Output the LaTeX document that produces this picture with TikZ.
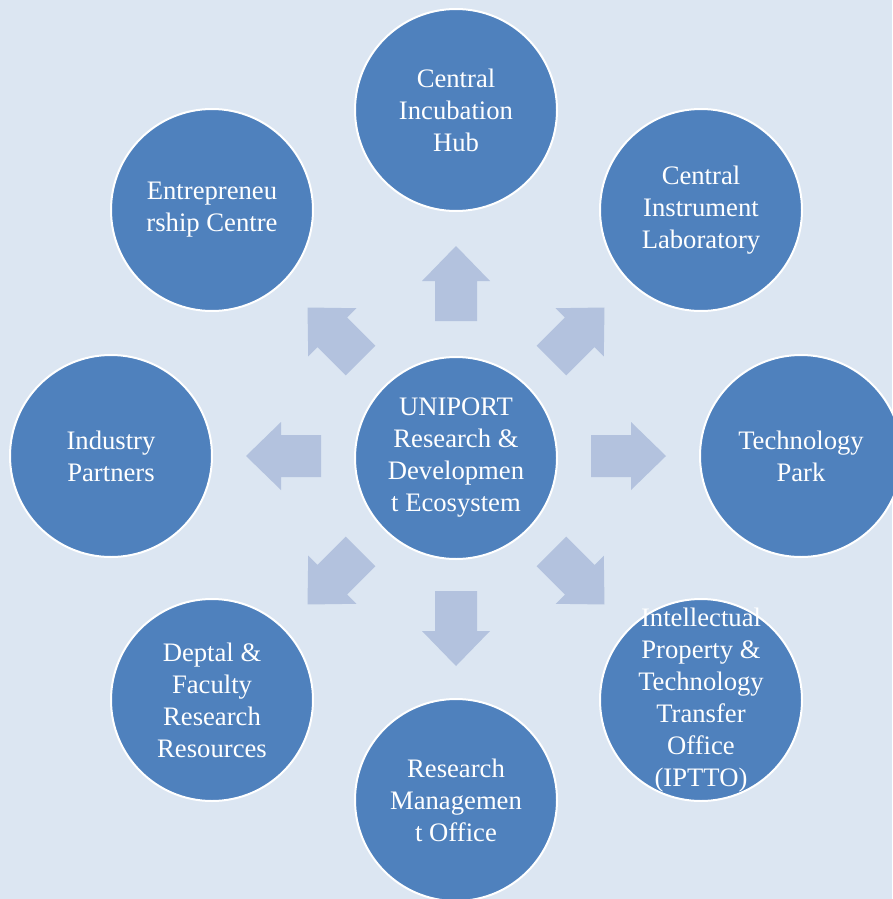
\documentclass[tikz,border=0pt]{standalone}
\usepackage{fontspec}
\setmainfont{Liberation Serif}
\newfontfamily\tnr{Liberation Serif}
\definecolor{bgc}{RGB}{220,230,242}
\definecolor{circc}{RGB}{79,129,189}
\definecolor{arrc}{RGB}{179,194,222}
\tikzset{
  bubble/.style={circle, fill=circc, draw=white, line width=1.5pt, minimum size=151.5pt, inner sep=0pt,
    text=white, align=center, font=\tnr\fontsize{20}{24}\selectfont},
  bubbletext/.style={text=white, align=center, inner sep=0pt, font=\tnr\fontsize{20}{24}\selectfont},
  blockarrow/.style={fill=arrc, draw=none}
}
\begin{document}
\begin{tikzpicture}[x=0.75pt, y=-0.75pt]
\fill[bgc] (0,0) rectangle (892,899);
\useasboundingbox (0,0) rectangle (892,899);
% block arrows
\foreach \a in {0,45,...,315}{
  \begin{scope}[shift={(456,456)}, rotate=\a]
    \fill[blockarrow] (135,-21) -- (175,-21) -- (175,-34) -- (210,0) -- (175,34) -- (175,21) -- (135,21) -- cycle;
  \end{scope}
}
\node[bubble] (center) at (456,458) {UNIPORT\\Research \&\\Developmen\\t Ecosystem};
\node[bubble] (hub) at (456,110) {Central\\Incubation\\Hub};
\node[bubble] (lab) at (701,210) {Central\\Instrument\\Laboratory};
\node[bubble] (park) at (801,456) {Technology\\Park};
\node[bubble] (iptto) at (701,700) {};
\node[bubbletext] (ipttotext) at (iptto.center) {Intellectual\\Property \&\\Technology\\Transfer\\Office\\(IPTTO)};
\node[bubble] (rmo) at (456,800) {Research\\Managemen\\t Office};
\node[bubble] (dept) at (212,700) {Deptal \&\\Faculty\\Research\\Resources};
\node[bubble] (ind) at (111,456) {Industry\\Partners};
\node[bubble] (ent) at (212,210) {Entrepreneu\\rship Centre};
\end{tikzpicture}
\end{document}
